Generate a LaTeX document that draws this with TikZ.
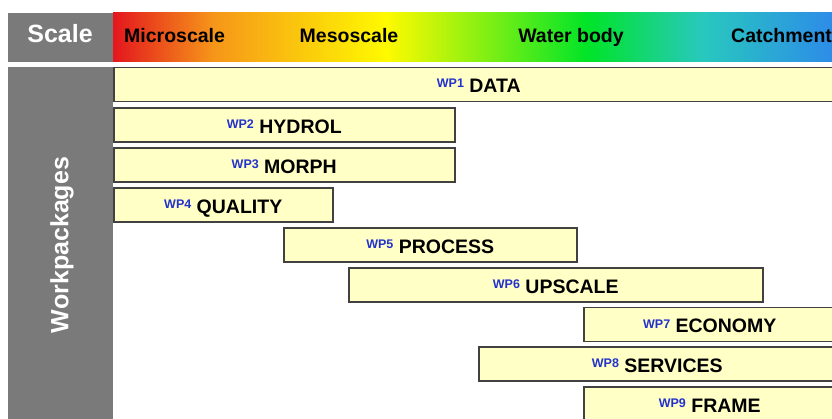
\documentclass[tikz,border=0pt]{standalone}
\usepackage{fontspec}
\setmainfont{Liberation Sans}
\definecolor{panelgray}{RGB}{122,122,122}
\definecolor{barfill}{RGB}{255,255,198}
\definecolor{barline}{RGB}{65,65,65}
\definecolor{wpblue}{RGB}{35,50,205}
\definecolor{scRed}{RGB}{228,22,30}
\definecolor{scOrange}{RGB}{246,150,25}
\definecolor{scYellow}{RGB}{255,250,0}
\definecolor{scGreen}{RGB}{0,228,40}
\definecolor{scTeal}{RGB}{40,200,190}
\definecolor{scBlue}{RGB}{45,140,232}
\pgfdeclarehorizontalshading{scalebar}{100bp}{color(0bp)=(scRed); color(25bp)=(scRed); color(32bp)=(scOrange); color(44bp)=(scYellow); color(58bp)=(scGreen); color(66bp)=(scTeal); color(75bp)=(scBlue); color(100bp)=(scBlue)}
\tikzset{
	panel/.style = {fill=panelgray, draw=none},
	scalelabel/.style = {font=\bfseries\fontsize{19.5}{20}\selectfont, text=black, inner sep=0pt},
	paneltitle/.style = {font=\bfseries\fontsize{25}{26}\selectfont, text=white, inner sep=0pt},
	wpbar/.style = {draw=barline, fill=barfill, line width=1.5pt, minimum height=34pt, inner sep=0pt, text height=17pt, text depth=0pt, anchor=west, font=\bfseries\fontsize{19.5}{20}\selectfont}
}
\newcommand{\wptag}[1]{\raisebox{5pt}{\textcolor{wpblue}{\fontsize{12.5}{13}\selectfont #1}}}

\begin{document}
\begin{tikzpicture}[x=1pt, y=-1pt]
\useasboundingbox (0,0) rectangle (832,419);
\clip (0,0) rectangle (832,419);
\fill[panel] (8,13) rectangle (113,62);
\fill[panel] (8,67) rectangle (113,425);
\shade[shading=scalebar] (113,13) rectangle (832,62);
\node [paneltitle, anchor=base] (scalehead) at (60,43) {Scale};
\node [paneltitle, rotate=90] (wphead) at (62,245) {Workpackages};
\node [scalelabel, anchor=base west] (micro) at (124,43) {Microscale};
\node [scalelabel, anchor=base] (meso) at (349,43) {Mesoscale};
\node [scalelabel, anchor=base] (water) at (571,43) {Water body};
\node [scalelabel, anchor=base west] (catch) at (731,43) {Catchment};
\node [wpbar, minimum width=730pt] (wp1) at (113,84.5) {\wptag{WP1} DATA};
\node [wpbar, minimum width=341pt] (wp2) at (113,125) {\wptag{WP2} HYDROL};
\node [wpbar, minimum width=341pt] (wp3) at (113,165) {\wptag{WP3} MORPH};
\node [wpbar, minimum width=219pt] (wp4) at (113,205) {\wptag{WP4} QUALITY};
\node [wpbar, minimum width=293pt] (wp5) at (283,245) {\wptag{WP5} PROCESS};
\node [wpbar, minimum width=414pt] (wp6) at (348,285) {\wptag{WP6} UPSCALE};
\node [wpbar, minimum width=252pt] (wp7) at (583,324.5) {\wptag{WP7} ECONOMY};
\node [wpbar, minimum width=357pt] (wp8) at (478,364) {\wptag{WP8} SERVICES};
\node [wpbar, minimum width=252pt] (wp9) at (583,404) {\wptag{WP9} FRAME};
\end{tikzpicture}
\end{document}
